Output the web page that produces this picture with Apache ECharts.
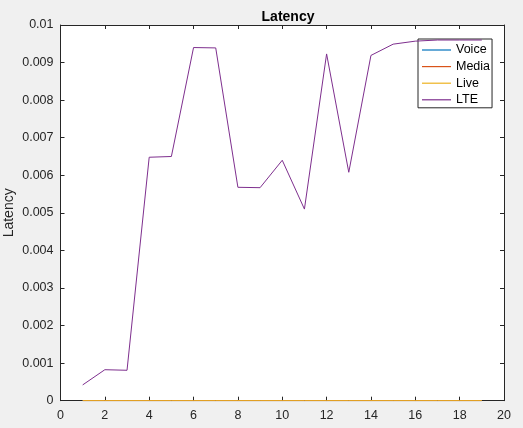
<!DOCTYPE html>
<html>
<head>
<meta charset="utf-8">
<script src="https://cdn.jsdelivr.net/npm/echarts@6/dist/echarts.min.js"></script>
<style>
html,body{margin:0;padding:0;background:#f0f0f0;}
#c{width:523px;height:428px;}
</style>
</head>
<body>
<div id="c"></div>
<script>
const xValues = [1,2,3,4,5,6,7,8,9,10,11,12,13,14,15,16,17,18,19];
const voice = [0,0,0,0,0,0,0,0,0,0,0,0,0,0,0,0,0,0,0];
const media = [0,0,0,0,0,0,0,0,0,0,0,0,0,0,0,0,0,0,0];
const live  = [0,0,0,0,0,0,0,0,0,0,0,0,0,0,0,0,0,0,0];
const lte   = [0.00042,0.000825,0.00081,0.00648,0.0065,0.0094,0.00939,0.00568,0.00567,0.0064,0.0051,0.00923,0.00608,0.00919,0.00949,0.00957,0.0096,0.0096,0.0096];
const seriesNames = ['Voice','Media','Live','LTE'];
const seriesColors = ['#0072BD','#D95319','#EDB120','#7E2F8E'];

const allData = [voice, media, live, lte];
const font = 'Liberation Sans, Arial, Helvetica, sans-serif';
const axisCol = '#262626';

const chart = echarts.init(document.getElementById('c'), null, {renderer:'canvas'});
const baseAxis = {
  axisLine:{show:true,onZero:false,lineStyle:{color:axisCol,width:1}},
  axisTick:{show:true,inside:true,length:4,lineStyle:{color:axisCol,width:1}},
  splitLine:{show:false}
};
chart.setOption({
  backgroundColor:'#f0f0f0',
  animation:false,
  title:{
    text:'Latency', left:283, top:5, textAlign:'center',
    textStyle:{fontFamily:font,fontSize:14,fontWeight:'bold',color:'#000'}
  },
  legend:{
    data:seriesNames,
    orient:'vertical',
    left:418, top:39,
    icon:'rect',
    itemWidth:29, itemHeight:1.2, itemGap:2.6,
    padding:[4,2,1,4],
    backgroundColor:'#fff',
    borderColor:axisCol, borderWidth:1, borderRadius:0,
    textStyle:{fontFamily:font,fontSize:12.5,color:'#000',lineHeight:14}
  },
  grid:{left:60.5,right:19,top:25,bottom:27.3,show:true,backgroundColor:'#fff',borderWidth:0,
    containLabel:false, outerBoundsMode:'none'},
  xAxis:[
    Object.assign({}, baseAxis, {
      type:'value', min:0, max:20, interval:2, position:'bottom',
      axisLabel:{color:axisCol,fontFamily:font,fontSize:12.5,margin:8}
    }),
    Object.assign({}, baseAxis, {
      type:'value', min:0, max:20, interval:2, position:'top',
      axisLabel:{show:false}
    })
  ],
  yAxis:[
    Object.assign({}, baseAxis, {
      type:'value', min:0, max:0.01, interval:0.001, position:'left',
      name:'Latency', nameLocation:'middle', nameGap:44, nameRotate:90,
      nameMoveOverlap:false,
      nameTextStyle:{fontFamily:font,fontSize:14,color:axisCol},
      axisLabel:{color:axisCol,fontFamily:font,fontSize:12.5,margin:7,
        formatter:function(v){return String(+v.toFixed(4));}}
    }),
    Object.assign({}, baseAxis, {
      type:'value', min:0, max:0.01, interval:0.001, position:'right',
      axisLabel:{show:false}
    })
  ],
  series: seriesNames.map(function(n,i){
    return {
      name:n, type:'line', xAxisIndex:0, yAxisIndex:0,
      symbol:'none', showSymbol:false,
      lineStyle:{color:seriesColors[i],width:1},
      itemStyle:{color:seriesColors[i]},
      data: xValues.map(function(x,j){return [x, allData[i][j]];}),
      z: 2+i
    };
  })
});
</script>
</body>
</html>
